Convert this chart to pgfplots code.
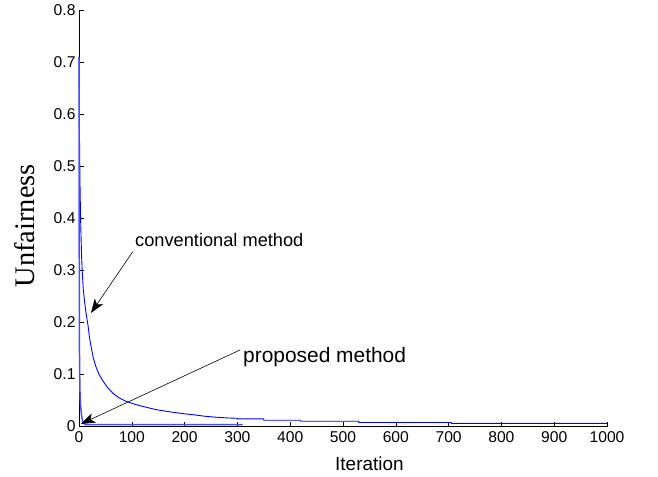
\documentclass[border=0pt]{standalone}
\usepackage{pgfplots}
\pgfplotsset{compat=1.18}
\usepackage{fontspec}
\setmainfont{Liberation Sans}
\newfontfamily\timesfont{Liberation Serif}
\usetikzlibrary{arrows.meta}
\begin{document}
\begin{tikzpicture}
\begin{axis}[
  scale only axis,
  width=528bp, height=416.5bp,
  xmin=0, xmax=1000, ymin=0, ymax=0.8,
  axis x line*=bottom, axis y line*=left,
  xtick={0,100,...,1000},
  ytick={0,0.1,0.2,0.3,0.4,0.5,0.6,0.7,0.8},
  yticklabels={0,0.1,0.2,0.3,0.4,0.5,0.6,0.7,0.8},
  tick align=inside,
  major tick length=5bp,
  tick style={black, line width=0.6pt},
  axis line style={black, line width=0.6pt},
  /pgf/number format/assume math mode=true,
  /pgf/number format/1000 sep={},
  ticklabel style={font=\fontsize{15.7}{17}\selectfont},
  xticklabel style={yshift=-2bp},
  xlabel={Iteration},
  xlabel style={font=\fontsize{19}{21}\selectfont, at={(axis description cs:0.55,0)}, anchor=north, yshift=-27bp},
  ylabel={\timesfont Unfairness},
  ylabel style={font=\fontsize{28.5}{30}\selectfont, at={(axis description cs:0,0.482)}, anchor=south, yshift=41bp},
  clip=false,
]
\addplot[blue, line width=0.9pt] coordinates {
(0,0.71)(1,0.55)(2,0.46)(3,0.40)(4,0.36)(5,0.325)(6,0.30)(8,0.265)(10,0.245)(13,0.22)(17,0.195)(20,0.17)(23,0.153)(27,0.132)(32,0.115)(38,0.1)(45,0.088)(54,0.075)(64,0.064)(76,0.055)(90,0.048)(108,0.042)(127,0.037)(148,0.032)(170,0.0285)(195,0.025)(221,0.022)(240,0.0195)(260,0.0178)(280,0.0165)(300,0.0157)(300,0.0147)(350,0.0147)(350,0.012)(420,0.012)(420,0.010)(530,0.010)(530,0.0077)(705,0.0077)(705,0.006)(1000,0.006)
};
\addplot[blue!70, line width=1.5pt] coordinates {
(0,0.71)(0.5,0.3)(1,0.12)(2,0.06)(3,0.04)(5,0.02)(7,0.01)(9,0.006)(12,0.0038)(310,0.0035)
};
\draw[black, line width=0.6pt, -{Stealth[length=14bp, width=10bp, inset=3.5bp]}] (axis cs:102,0.336) -- (axis cs:22.7,0.218);
\draw[black, line width=0.6pt, -{Stealth[length=14bp, width=10bp, inset=3.5bp]}] (axis cs:305,0.147) -- (axis cs:3.8,0.005);
\node[anchor=west, inner sep=0pt, font=\fontsize{18.3}{20}\selectfont] at (axis cs:106,0.359) {conventional method};
\node[anchor=west, inner sep=0pt, font=\fontsize{21}{23}\selectfont] at (axis cs:310.6,0.134) {proposed method};
\end{axis}
\pgfresetboundingbox
\path[use as bounding box] (-79bp,-50.5bp) rectangle (579bp,426.5bp);
\end{tikzpicture}
\end{document}
